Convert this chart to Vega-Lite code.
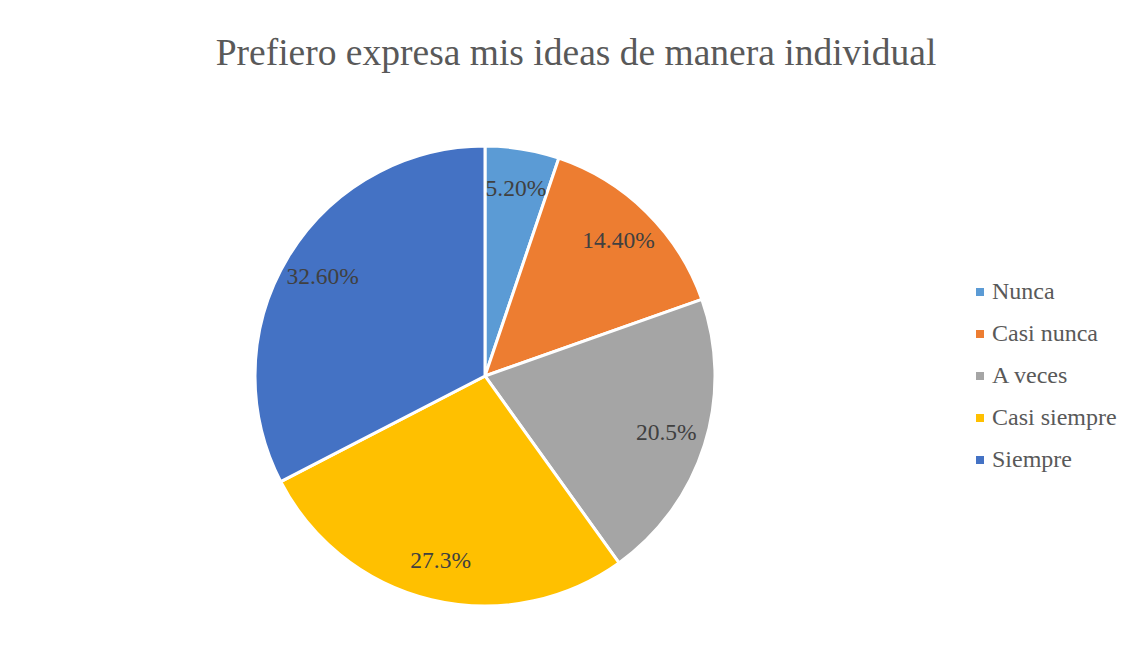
{
  "$schema": "https://vega.github.io/schema/vega-lite/v6.json",
  "width": 970,
  "height": 580,
  "autosize": {"type": "none"},
  "padding": {"left": 0, "top": 86, "right": 165, "bottom": 0},
  "background": "white",
  "config": {"view": {"stroke": null}},
  "title": {
    "text": "Prefiero expresa mis ideas de manera individual",
    "font": "Liberation Serif",
    "fontSize": 37.5,
    "fontWeight": "normal",
    "color": "#595959",
    "anchor": "middle",
    "dx": 91,
    "offset": 14
  },
  "data": {
    "values": [
      {"categoria": "Nunca", "porcentaje": 5.2, "etiqueta": "5.20%", "orden": 1},
      {"categoria": "Casi nunca", "porcentaje": 14.4, "etiqueta": "14.40%", "orden": 2},
      {"categoria": "A veces", "porcentaje": 20.5, "etiqueta": "20.5%", "orden": 3},
      {"categoria": "Casi siempre", "porcentaje": 27.3, "etiqueta": "27.3%", "orden": 4},
      {"categoria": "Siempre", "porcentaje": 32.6, "etiqueta": "32.60%", "orden": 5}
    ]
  },
  "encoding": {
    "theta": {"field": "porcentaje", "type": "quantitative", "stack": true},
    "order": {"field": "orden", "type": "quantitative"},
    "color": {
      "field": "categoria",
      "type": "nominal",
      "scale": {
        "domain": ["Nunca", "Casi nunca", "A veces", "Casi siempre", "Siempre"],
        "range": ["#5B9BD5", "#ED7D31", "#A5A5A5", "#FFC000", "#4472C4"]
      },
      "legend": {
        "title": null,
        "orient": "none",
        "legendX": 968,
        "legendY": 194,
        "symbolType": "square",
        "symbolSize": 64,
        "symbolStrokeWidth": 0,
        "labelFont": "Liberation Serif",
        "labelFontSize": 24,
        "labelColor": "#595959",
        "rowPadding": 18,
        "labelOffset": 0,
        "labelLimit": 300
      }
    }
  },
  "layer": [
    {
      "mark": {"type": "arc", "radius": 230, "stroke": "white", "strokeWidth": 3}
    },
    {
      "mark": {
        "type": "text",
        "radius": 190,
        "font": "Liberation Serif",
        "fontSize": 23.5,
        "color": "#404040"
      },
      "encoding": {
        "text": {"field": "etiqueta", "type": "nominal"},
        "color": {"value": "#404040"}
      }
    }
  ]
}
